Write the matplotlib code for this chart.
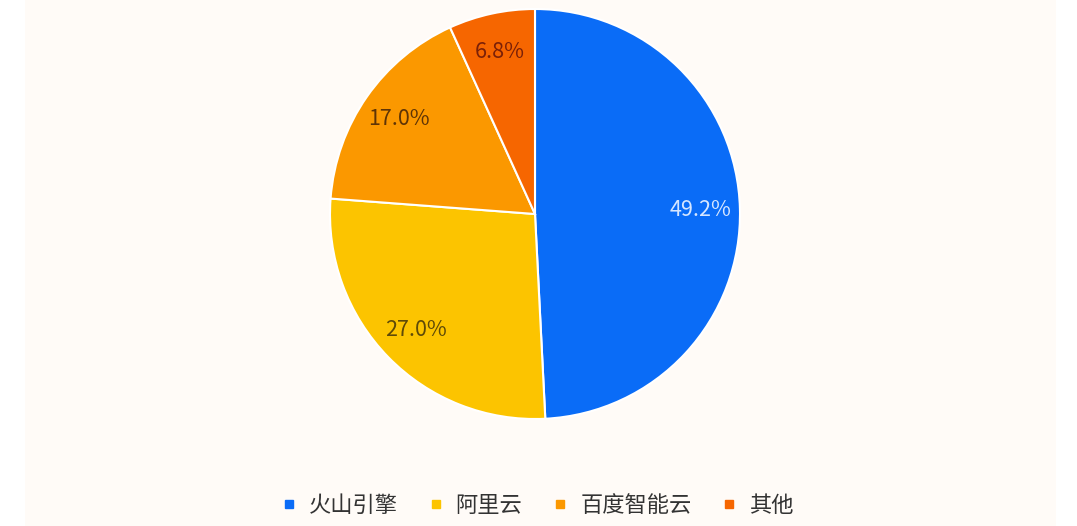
import matplotlib
matplotlib.use('Agg')
import matplotlib.pyplot as plt
from matplotlib.patches import Rectangle
from matplotlib.lines import Line2D

plt.rcParams['font.family'] = ['Noto Sans CJK SC', 'DejaVu Sans']

# данные
labels = ['火山引擎', '阿里云', '百度智能云', '其他']
shares = [49.2, 27.0, 17.0, 6.8]
colors = ['#0a6cf7', '#fcc400', '#fb9800', '#f66600']
text_colors = ['#d6e6ff', '#5e4a08', '#5e3406', '#7a2008']

W, H = 1077, 526
fig = plt.figure(figsize=(W / 100, H / 100), dpi=100)
fig.patch.set_facecolor('white')

# светлый фон
fig.patches.append(Rectangle((25 / W, 0), (1056 - 25) / W, 1, transform=fig.transFigure,
                             facecolor='#fffbf7', edgecolor='none', zorder=-5))

cx, cy, r = 535, 214, 205
ax = fig.add_axes([(cx - r) / W, (H - cy - r) / H, 2 * r / W, 2 * r / H])
ax.set_facecolor('none')
ax.set_zorder(2)

wedges, texts, autotexts = ax.pie(shares, colors=colors, startangle=90, counterclock=False,
                                  autopct='%.1f%%', pctdistance=0.81,
                                  wedgeprops=dict(edgecolor='white', linewidth=1.5),
                                  textprops=dict(fontsize=15.5))
for t, c in zip(autotexts, text_colors):
    t.set_color(c)
ax.set_xlim(-1, 1)
ax.set_ylim(-1, 1)
ax.set_aspect('equal')

handles = [Line2D([], [], marker='s', linestyle='none', markersize=5.5,
                  markerfacecolor=c, markeredgecolor=c) for c in colors]
fig.legend(handles, labels, loc='center', bbox_to_anchor=(538 / W, (H - 505) / H),
           ncol=4, frameon=False, fontsize=16, handlelength=0.6, handletextpad=0.6,
           columnspacing=1.4, labelcolor='#333333')

fig.savefig('out.png', dpi=100, facecolor=fig.get_facecolor())
